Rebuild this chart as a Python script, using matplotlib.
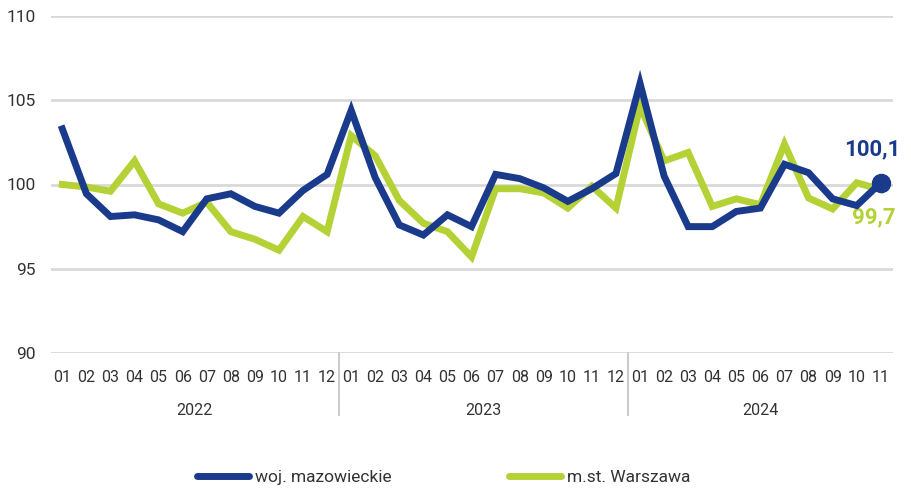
import numpy as np
import matplotlib
matplotlib.use("Agg")
import matplotlib.pyplot as plt

# Data - monthly index values (previous month = 100)
years = ["2022", "2023", "2024"]
months = ["01", "02", "03", "04", "05", "06", "07", "08", "09", "10", "11", "12"] * 2 + \
         ["01", "02", "03", "04", "05", "06", "07", "08", "09", "10", "11"]

mazowieckie = [103.3, 99.45, 98.1, 98.2, 97.9, 97.2, 99.15, 99.45, 98.7, 98.3, 99.65, 100.6,
               104.4, 100.4, 97.6, 97.0, 98.2, 97.5, 100.6, 100.35, 99.8, 99.0, 99.75, 100.65,
               106.0, 100.5, 97.5, 97.5, 98.4, 98.6, 101.2, 100.7, 99.15, 98.75, 100.1]
warszawa = [100.0, 99.85, 99.6, 101.4, 98.85, 98.3, 98.95, 97.2, 96.75, 96.1, 98.1, 97.2,
            102.9, 101.7, 99.05, 97.7, 97.2, 95.7, 99.75, 99.75, 99.5, 98.6, 99.9, 98.6,
            104.65, 101.4, 101.9, 98.7, 99.15, 98.8, 102.4, 99.2, 98.55, 100.1, 99.7]

blue = "#1a3a8c"
green = "#b4d236"
txt = "#333333"

plt.rcParams['font.family'] = ['Roboto', 'DejaVu Sans']

fig = plt.figure(figsize=(9.11, 4.92), dpi=100)
ax = fig.add_axes([0.056, 0.2825, 0.924, 0.685])

x = np.arange(len(months))
ax.plot(x, warszawa, color=green, lw=5, solid_joinstyle="miter", zorder=3)
ax.plot(x, mazowieckie, color=blue, lw=5, solid_joinstyle="miter", zorder=4)
ax.plot(x[-1], mazowieckie[-1], "o", color=blue, ms=13, zorder=5)

# end labels
ax.annotate("100,1", (x[-1], mazowieckie[-1]), xytext=(-6, 16), textcoords="offset points",
            ha="center", va="bottom", color=blue, fontsize=16, fontweight="bold")
ax.annotate("99,7", (x[-1], warszawa[-1]), xytext=(-5, -12), textcoords="offset points",
            ha="center", va="top", color=green, fontsize=16, fontweight="bold")

ax.set_xlim(-0.47, 34.5)
ax.set_ylim(90, 110)
ax.set_yticks([90, 95, 100, 105, 110])
ax.yaxis.grid(True, color="#d9d9d9", lw=2)
ax.set_axisbelow(True)
for s in ax.spines.values():
    s.set_visible(False)
ax.tick_params(axis="y", length=0, labelsize=12.5, labelcolor=txt, pad=11)
ax.tick_params(axis="x", length=0, labelsize=11.5, labelcolor=txt, pad=12)
ax.set_xticks(x)
ax.set_xticklabels(months)

# year labels and separators
for i, yr in enumerate(years):
    start = i * 12
    end = min(start + 11, len(months) - 1)
    ax.text((start + end) / 2, -0.17, yr, transform=ax.get_xaxis_transform(),
            ha="center", va="center", fontsize=11.5, color=txt)
for sep in [11.5, 23.5]:
    ax.plot([sep, sep], [0, -0.185], transform=ax.get_xaxis_transform(),
            color="#cccccc", lw=1.5, clip_on=False)

h1, = ax.plot([], [], color=blue, lw=5, solid_capstyle="round")
h2, = ax.plot([], [], color=green, lw=5, solid_capstyle="round")
fig.legend([h1, h2], ["woj. mazowieckie", "m.st. Warszawa"], loc="center",
           bbox_to_anchor=(0.487, 0.03), ncol=2, frameon=False, fontsize=12.5,
           handlelength=3.0, handletextpad=0.3, columnspacing=6.8, labelcolor=txt)

fig.savefig("out.png", dpi=100)
